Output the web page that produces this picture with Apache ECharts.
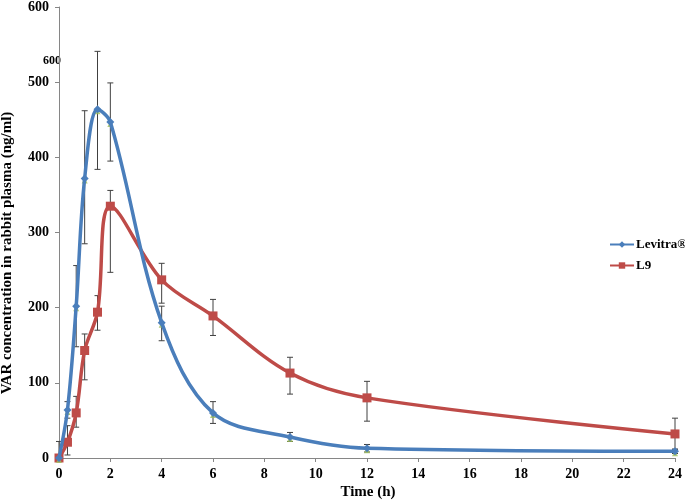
<!DOCTYPE html>
<html>
<head>
<meta charset="utf-8">
<script src="https://cdn.jsdelivr.net/npm/echarts@6/dist/echarts.min.js"></script>
<style>html,body{margin:0;padding:0;background:#fff;}#c{width:685px;height:503px;}</style>
</head>
<body>
<div id="c"></div>
<script>
const times = [0, 0.33, 0.67, 1, 1.5, 2, 4, 6, 9, 12, 24];
const levitra = [0, 64, 202, 372, 464, 447, 180, 60, 28, 13, 9];
const levitraLow = [0, 53, 148, 285, 384, 395, 156, 46, 22, 8, 6];
const levitraHigh = [22, 75, 256, 462, 541, 499, 202, 75, 34, 18, 12];
const l9 = [0, 21, 60, 143, 194, 335, 237, 189, 113, 80, 32];
const l9Low = [0, 4, 41, 104, 170, 247, 206, 163, 85, 49, 11];
const l9High = [0, 43, 82, 165, 216, 356, 259, 211, 134, 102, 53];
const xTicks = [0, 24, 2];
const yTicks = [0, 600, 100];

const font = '"Liberation Serif", "Times New Roman", serif';
const blue = '#4A7EBB', red = '#BE4B48', green = '#9BBB59';

function pairs(ys) { return times.map((t, i) => [t, ys[i]]); }
function errData(lo, hi) { return times.map((t, i) => [t, lo[i], hi[i]]); }

function errRender(params, api) {
  const x = api.value(0);
  const lo = api.coord([x, api.value(1)]);
  const hi = api.coord([x, api.value(2)]);
  const w = 3;
  const st = { stroke: '#404040', lineWidth: 1 };
  return {
    type: 'group',
    children: [
      { type: 'line', shape: { x1: lo[0], y1: lo[1], x2: hi[0], y2: hi[1] }, style: st },
      { type: 'line', shape: { x1: hi[0] - w, y1: hi[1], x2: hi[0] + w, y2: hi[1] }, style: st },
      { type: 'line', shape: { x1: lo[0] - w, y1: lo[1], x2: lo[0] + w, y2: lo[1] }, style: st }
    ]
  };
}

const chart = echarts.init(document.getElementById('c'), null, { renderer: 'canvas' });
chart.setOption({
  animation: false,
  backgroundColor: '#fff',
  grid: { left: 59, right: 6, top: 5, bottom: 45 },
  legend: {
    data: ['Levitra®', 'L9'],
    orient: 'vertical',
    left: 604, top: 233,
    itemWidth: 24, itemHeight: 8, itemGap: 8,
    textStyle: { fontFamily: font, fontWeight: 'bold', fontSize: 13, color: '#000', padding: [0, 0, 0, -3] }
  },
  xAxis: {
    type: 'value', min: xTicks[0], max: xTicks[1], interval: xTicks[2],
    axisLine: { lineStyle: { color: '#868686' } },
    axisTick: { show: true, length: 4, lineStyle: { color: '#868686' } },
    splitLine: { show: false },
    axisLabel: { fontFamily: font, fontWeight: 'bold', fontSize: 14, color: '#000', margin: 9 }
  },
  yAxis: {
    type: 'value', min: yTicks[0], max: yTicks[1], interval: yTicks[2],
    axisLine: { show: true, lineStyle: { color: '#868686' } },
    axisTick: { show: true, length: 4, lineStyle: { color: '#868686' } },
    splitLine: { show: false },
    axisLabel: { fontFamily: font, fontWeight: 'bold', fontSize: 14, color: '#000', margin: 10 }
  },
  graphic: [
    { type: 'text', x: 368, y: 492, style: { text: 'Time (h)', font: 'bold 15px ' + font, fill: '#000', align: 'center', verticalAlign: 'middle' } },
    { type: 'text', x: 7, y: 253, rotation: Math.PI / 2, style: { text: 'VAR concentration in rabbit plasma (ng/ml)', font: 'bold 15px ' + font, fill: '#000', align: 'center', verticalAlign: 'middle' } },
    { type: 'text', x: 43, y: 55, style: { text: '600', font: 'bold 12px ' + font, fill: '#000' } }
  ],
  series: [
    { type: 'custom', name: 'errL9', renderItem: errRender, data: errData(l9Low, l9High), z: 1, silent: true },
    { type: 'custom', name: 'errLev', renderItem: errRender, data: errData(levitraLow, levitraHigh), z: 1, silent: true },
    {
      name: 'L9', type: 'line', data: pairs(l9), smooth: 0.35,
      symbol: 'rect', symbolSize: 9, showAllSymbol: true,
      lineStyle: { color: red, width: 3.5 }, itemStyle: { color: red }, z: 3
    },
    {
      name: 'greenTri', type: 'scatter', data: pairs(levitra), symbol: 'triangle', symbolSize: 6,
      symbolOffset: [0, 2], itemStyle: { color: green }, z: 4, silent: true
    },
    {
      name: 'Levitra®', type: 'line', data: pairs(levitra), smooth: 0.35,
      symbol: 'diamond', symbolSize: 8, showAllSymbol: true,
      lineStyle: { color: blue, width: 3.5 }, itemStyle: { color: blue }, z: 5
    }
  ]
});
</script>
</body>
</html>
